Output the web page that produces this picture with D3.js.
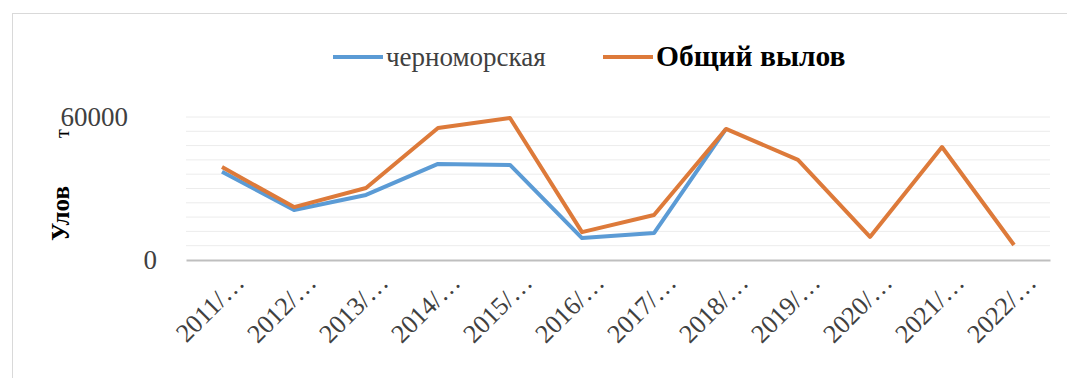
<!DOCTYPE html>
<html>
<head>
<meta charset="utf-8">
<script src="https://cdn.jsdelivr.net/npm/d3@7"></script>
<style>
  html, body { margin: 0; padding: 0; background: #fff; }
  svg { display: block; }
  text { font-family: "Liberation Serif", "DejaVu Serif", serif; }
</style>
</head>
<body>
<svg id="chart" width="1067" height="378"></svg>
<script>
// Catch by season, tonnes
const categories = ["2011/…", "2012/…", "2013/…", "2014/…", "2015/…", "2016/…",
                    "2017/…", "2018/…", "2019/…", "2020/…", "2021/…", "2022/…"];
const blackSea = [37000, 21000, 27300, 40300, 39900, 9200, 11300, 55000, null, null, null, null];
const totalCatch = [39000, 22200, 30200, 55400, 59600, 11700, 18900, 55000, 42000, 9700, 47400, 6300];
const seriesNames = ["черноморская", "Общий вылов"];
const yTicks = [0, 60000];
const yMinorStep = 6000;
const yTitle = "Улов";
const yUnit = "т";

const colors = ["#5b9bd5", "#dd7a3a"];

const svg = d3.select("#chart");
const plot = { left: 186, right: 1050, top: 117, bottom: 260 };

// chart frame
svg.append("rect")
  .attr("x", 12.5).attr("y", 13.5)
  .attr("width", 1080).attr("height", 380)
  .attr("fill", "#fff").attr("stroke", "#d9d9d9").attr("stroke-width", 1);

const x = d3.scaleBand().domain(categories).range([plot.left, plot.right]);
const y = d3.scaleLinear().domain([0, 60000]).range([plot.bottom, plot.top]);

// gridlines
const gridVals = d3.range(yMinorStep, 60000 + 1, yMinorStep);
svg.append("g").selectAll("line").data(gridVals).join("line")
  .attr("x1", plot.left).attr("x2", plot.right)
  .attr("y1", d => y(d)).attr("y2", d => y(d))
  .attr("stroke", "#ececec").attr("stroke-width", 1);

// x axis baseline + labels
const xAxis = svg.append("g")
  .attr("transform", `translate(0,${plot.bottom})`)
  .call(d3.axisBottom(x).tickSize(0).tickPadding(0));
xAxis.select(".domain").attr("stroke", "#bfbfbf").attr("stroke-width", 2);
xAxis.selectAll(".tick text")
  .attr("font-size", 26)
  .attr("fill", "#404040")
  .attr("text-anchor", "end")
  .attr("dy", 0)
  .attr("transform", "translate(24,24) rotate(-45)");

// y axis labels
const yAxis = svg.append("g")
  .attr("transform", `translate(157,0)`)
  .call(d3.axisLeft(y).tickValues(yTicks).tickSize(0).tickPadding(0).tickFormat(d3.format("d")));
yAxis.select(".domain").remove();
yAxis.selectAll(".tick text")
  .attr("font-size", 27)
  .attr("fill", "#404040")
  .attr("dy", "0.32em");
yAxis.selectAll(".tick").filter(d => d === 60000).select("text").attr("dx", -29);

// y axis title
const yt = svg.append("text")
  .attr("transform", "translate(69,241) rotate(-90)")
  .attr("text-anchor", "start")
  .attr("fill", "#000");
yt.append("tspan").attr("font-weight", "bold").attr("font-size", 25).text(yTitle);
yt.append("tspan").attr("dx", 48).attr("font-size", 20).text(yUnit);

// lines
const line = d3.line()
  .defined(d => d != null)
  .x((d, i) => x(categories[i]) + x.bandwidth() / 2)
  .y(d => y(d));

[blackSea, totalCatch].forEach((vals, k) => {
  svg.append("path")
    .datum(vals)
    .attr("fill", "none")
    .attr("stroke", colors[k])
    .attr("stroke-width", 4)
    .attr("stroke-linejoin", "round")
    .attr("d", line);
});

// legend
const legend = svg.append("g");
const items = [
  { x: 333, name: seriesNames[0], bold: false, size: 27 },
  { x: 603, name: seriesNames[1], bold: true, size: 29.5 }
];
items.forEach((it, k) => {
  legend.append("line")
    .attr("x1", it.x).attr("x2", it.x + 50)
    .attr("y1", 57).attr("y2", 57)
    .attr("stroke", colors[k]).attr("stroke-width", 4);
  legend.append("text")
    .attr("x", it.x + 53).attr("y", 57)
    .attr("dy", "0.32em")
    .attr("font-size", it.size)
    .attr("font-weight", it.bold ? "bold" : "normal")
    .attr("fill", it.bold ? "#000" : "#404040")
    .text(it.name);
});
</script>
</body>
</html>
